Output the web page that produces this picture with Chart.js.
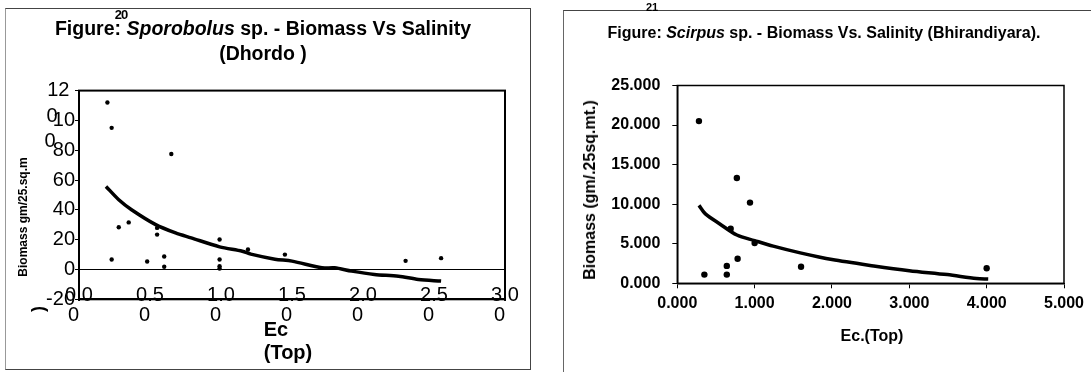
<!DOCTYPE html>
<html>
<head>
<meta charset="utf-8">
<title>Biomass Vs Salinity</title>
<script src="https://cdn.jsdelivr.net/npm/chart.js@4.4.1/dist/chart.umd.min.js"></script>
<style>
    body { margin: 0; background: #fff; font-family: Arial, "Liberation Sans", sans-serif; color: #000; }
    #page { position: relative; width: 1091px; height: 372px; overflow: hidden; }
    .box { position: absolute; box-sizing: border-box; }
    canvas { position: absolute; top: 0; }
    .t { position: absolute; white-space: nowrap; font-weight: bold; line-height: 1; transform: translate(-50%, -50%); }
    .t.r { transform: translate(-50%, -50%) rotate(-90deg); }
    .t.n { font-weight: normal; }
</style>
</head>
<body>
<div id="page">
    <div class="box" style="left:5px;top:8px;width:526px;height:362px;border:1px solid #444;border-left-color:#999;"></div>
    <div class="box" style="left:563px;top:10px;width:600px;height:400px;border-top:1px solid #444;border-left:1px solid #666;"></div>

    <canvas id="dhordo" width="540" height="372" style="left:0"></canvas>
    <canvas id="bhirandiyara" width="551" height="372" style="left:540px"></canvas>

    <!-- Left figure text -->
    <div class="t" style="left:121px;top:14px;font-size:13px;letter-spacing:-1px;">20</div>
    <div class="t" style="left:263px;top:29px;font-size:19.5px;">Figure: <i>Sporobolus</i> sp. - Biomass Vs Salinity</div>
    <div class="t" style="left:263px;top:54px;font-size:19.5px;">(Dhordo )</div>
    <div class="t r" style="left:23px;top:217px;font-size:12px;">Biomass gm/25.sq.m</div>
    <div class="t r" style="left:38px;top:309px;font-size:18px;">)</div>
    <div class="t n" style="left:52px;top:115px;font-size:20px;">0</div>
    <div class="t n" style="left:50px;top:140px;font-size:20px;">0</div>
    <div class="t" style="left:276px;top:329px;font-size:20px;">Ec</div>
    <div class="t" style="left:288px;top:352px;font-size:20px;">(Top)</div>

    <!-- Right figure text -->
    <div class="t" style="left:652px;top:7px;font-size:11px;">21</div>
    <div class="t" style="left:824px;top:33px;font-size:16px;">Figure: <i>Scirpus</i> sp. - Biomass Vs. Salinity (Bhirandiyara).</div>
    <div class="t r" style="left:590px;top:190px;font-size:16px;">Biomass (gm/.25sq.mt.)</div>
    <div class="t" style="left:872px;top:336px;font-size:16px;">Ec.(Top)</div>
</div>

<script>
(function () {
    "use strict";

    // Sporobolus sp. (Dhordo) - observed points
    var dhordoEc      = [0.20, 0.23, 0.65, 0.23, 0.28, 0.35, 0.48, 0.55, 0.55, 0.60, 0.60, 0.99, 0.99, 0.99, 0.99, 1.19, 1.45, 2.30, 2.55];
    var dhordoBiomass = [112, 95, 77.5, 6.7, 28.3, 31.6, 5.4, 27.9, 23.4, 8.7, 1.8, 20.1, 6.7, 2.2, 0.7, 13.4, 10.0, 5.8, 7.6];

    // Dhordo trend line
    var dhordoTrendEc      = [0.19, 0.28, 0.37, 0.54, 0.68, 0.79, 0.99, 1.15, 1.21, 1.38, 1.50, 1.71, 1.80, 1.92, 2.08, 2.25, 2.39, 2.55];
    var dhordoTrendBiomass = [55.7, 46.8, 40.1, 30.1, 24.5, 21.2, 15.2, 12.2, 10.3, 6.9, 5.6, 1.1, 1.1, -1.1, -3.3, -4.5, -6.7, -7.8];

    var dhordoXTicks  = [0, 0.5, 1, 1.5, 2, 2.5, 3];
    var dhordoXLabels = ["0.0", "0.5", "1.0", "1.5", "2.0", "2.5", "3.0"];
    var dhordoYTicks  = [-20, 0, 20, 40, 60, 80, 100, 120];
    var dhordoYLabels = ["-20", "0", "20", "40", "60", "80", "10", "12 "];

    // Scirpus sp. (Bhirandiyara) - observed points
    var bhirEc      = [0.28, 0.77, 0.94, 0.69, 1.00, 0.78, 0.64, 0.64, 0.35, 1.60, 4.00];
    var bhirBiomass = [20.5, 13.3, 10.2, 6.9, 5.1, 3.1, 2.2, 1.1, 1.1, 2.1, 1.9];

    // Bhirandiyara trend line
    var bhirTrendEc      = [0.28, 0.36, 0.55, 0.77, 1.00, 1.24, 1.59, 2.00, 2.54, 3.00, 3.49, 3.87, 4.02];
    var bhirTrendBiomass = [9.85, 8.8, 7.5, 6.1, 5.4, 4.7, 3.85, 3.0, 2.2, 1.6, 1.1, 0.6, 0.55];

    var FONT = 'Arial, "Liberation Sans", sans-serif';

    function toPoints(xs, ys) {
        return xs.map(function (x, i) { return {x: x, y: ys[i]}; });
    }

    function lookup(ticks, labels, v) {
        var i = ticks.indexOf(Math.round(v * 100) / 100);
        return i < 0 ? '' : labels[i];
    }

    // Box round the plot area
    var plotFrame = {
        id: 'plotFrame',
        afterDraw: function (chart, args, opts) {
            var a = chart.chartArea, ctx = chart.ctx;
            ctx.save();
            ctx.strokeStyle = '#000';
            ctx.lineWidth = opts.width || 1.5;
            ctx.strokeRect(a.left, a.top, a.right - a.left, a.bottom - a.top);
            ctx.restore();
        }
    };

    // Left chart
    new Chart(document.getElementById('dhordo').getContext('2d'), {
        type: 'scatter',
        data: {
            datasets: [{
                data: toPoints(dhordoTrendEc, dhordoTrendBiomass),
                showLine: true,
                borderColor: '#000',
                borderWidth: 3.5,
                tension: 0.3,
                pointRadius: 0
            }, {
                data: toPoints(dhordoEc, dhordoBiomass),
                backgroundColor: '#000',
                borderWidth: 0,
                pointRadius: 2.2
            }]
        },
        options: {
            responsive: false,
            animation: false,
            layout: {padding: {top: 90.6, right: 35, bottom: 32.7, left: 0}},
            plugins: {legend: {display: false}, tooltip: {enabled: false}, plotFrame: {width: 2}},
            scales: {
                x: {
                    type: 'linear', min: 0, max: 3,
                    afterFit: function (s) { s.height = 40; },
                    grid: {display: false, drawTicks: false},
                    border: {display: true, color: '#000', width: 2},
                    ticks: {
                        // mirror keeps the labels unclipped so they can sit on the axis line
                        stepSize: 0.5, autoSkip: false, maxRotation: 0, mirror: true, padding: -6,
                        color: '#000', font: {family: FONT, size: 20, lineHeight: 1},
                        callback: function (v) { return [lookup(dhordoXTicks, dhordoXLabels, v), '0  ']; }
                    }
                },
                y: {
                    min: -20, max: 120,
                    afterFit: function (s) { s.width = 79; },
                    grid: {
                        color: function (c) { return c.tick && c.tick.value === 0 ? '#000' : 'rgba(0,0,0,0)'; },
                        tickColor: '#000', tickLength: 4, lineWidth: 1
                    },
                    border: {display: true, color: '#000', width: 2},
                    ticks: {
                        stepSize: 20, padding: 0, color: '#000',
                        font: {family: FONT, size: 20},
                        callback: function (v) { return lookup(dhordoYTicks, dhordoYLabels, v); }
                    }
                }
            }
        },
        plugins: [plotFrame]
    });

    // Right chart
    new Chart(document.getElementById('bhirandiyara').getContext('2d'), {
        type: 'scatter',
        data: {
            datasets: [{
                data: toPoints(bhirTrendEc, bhirTrendBiomass),
                showLine: true,
                borderColor: '#000',
                borderWidth: 3.5,
                tension: 0.3,
                pointRadius: 0
            }, {
                data: toPoints(bhirEc, bhirBiomass),
                backgroundColor: '#000',
                borderWidth: 0,
                pointRadius: 3.2
            }]
        },
        options: {
            responsive: false,
            animation: false,
            layout: {padding: {top: 85.5, right: 27, bottom: 48.7, left: 0}},
            plugins: {legend: {display: false}, tooltip: {enabled: false}, plotFrame: {width: 1.5}},
            scales: {
                x: {
                    type: 'linear', min: 0, max: 5,
                    afterFit: function (s) { s.height = 40; },
                    grid: {color: 'rgba(0,0,0,0)', tickColor: '#000', tickLength: 5},
                    border: {display: true, color: '#000', width: 1.5},
                    ticks: {
                        stepSize: 1, autoSkip: false, maxRotation: 0, padding: 6,
                        color: '#000', font: {family: FONT, size: 16, weight: 'bold'},
                        callback: function (v) { return v.toFixed(3); }
                    }
                },
                y: {
                    min: 0, max: 25,
                    afterFit: function (s) { s.width = 137.3; },
                    grid: {color: 'rgba(0,0,0,0)', tickColor: '#000', tickLength: 5},
                    border: {display: true, color: '#000', width: 1.5},
                    ticks: {
                        stepSize: 5, padding: 12, color: '#000',
                        font: {family: FONT, size: 16, weight: 'bold'},
                        callback: function (v) { return v.toFixed(3); }
                    }
                }
            }
        },
        plugins: [plotFrame]
    });

})();
</script>
</body>
</html>
